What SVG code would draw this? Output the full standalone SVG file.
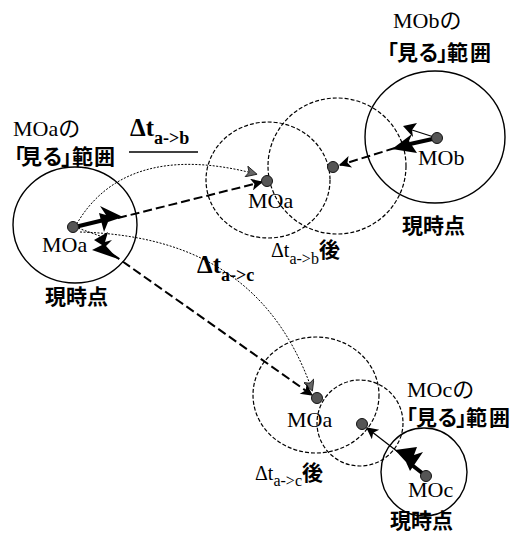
<svg xmlns="http://www.w3.org/2000/svg" width="514" height="535" viewBox="0 0 514 535">
<defs>
<marker id="ahBig" viewBox="0 0 10 10" refX="9" refY="5" markerWidth="15" markerHeight="12" markerUnits="userSpaceOnUse" orient="auto"><path d="M0,0 L10,5 L0,10 L2.5,5 z" fill="#000"/></marker>
<marker id="ahG" viewBox="0 0 10 10" refX="9" refY="5" markerWidth="13" markerHeight="11" markerUnits="userSpaceOnUse" orient="auto"><path d="M0,0 L10,5 L0,10 L2.5,5 z" fill="#666" stroke="#222" stroke-width="0.8"/></marker>
</defs>
<style>
.solid{fill:none;stroke:#000;stroke-width:1.4}
.dcirc{fill:none;stroke:#000;stroke-width:1.2;stroke-dasharray:4 2}
.dash{fill:none;stroke:#000;stroke-width:2;stroke-dasharray:9 4}
.dot{fill:none;stroke:#000;stroke-width:1;stroke-dasharray:2 1.5}
.vel{fill:none;stroke:#000;stroke-width:4}
.head{fill:#000}
.pt{fill:#555;stroke:#111;stroke-width:1}
.mo{font-family:"Liberation Serif","Noto Sans CJK JP",serif;font-size:22px;fill:#000}
.jp{font-family:"Noto Sans CJK JP",sans-serif;font-size:21px;font-weight:bold;fill:#000}
.dt{font-family:"Liberation Serif",serif;font-weight:bold;fill:#000}
.dtr{font-family:"Liberation Serif",serif;fill:#000}
</style>
<g id="circles">
<ellipse id="rangeA" class="solid" cx="75" cy="225" rx="62" ry="58"/>
<ellipse id="rangeAb" class="dcirc" cx="268" cy="180" rx="62" ry="58"/>
<ellipse id="rangeBpred" class="dcirc" cx="337" cy="166" rx="69" ry="68"/>
<ellipse id="rangeB" class="solid" cx="435" cy="137" rx="70" ry="66"/>
<ellipse id="rangeAc" class="dcirc" cx="316" cy="395" rx="63" ry="58"/>
<ellipse id="rangeCpred" class="dcirc" cx="360" cy="423" rx="43" ry="43"/>
<ellipse id="rangeC" class="solid" cx="424" cy="472" rx="43" ry="44"/>
</g>
<g id="connectors">
<path class="dot" d="M75,227 C105,172 165,150 256,174" marker-end="url(#ahG)"/>
<path class="dot" d="M80,232 C180,235 270,270 312,390" marker-end="url(#ahG)"/>
<path class="dash" d="M118,218 L262,182" marker-end="url(#ahBig)"/>
<path class="dash" d="M112,254 L312,395" marker-end="url(#ahBig)"/>
<path class="dash" d="M395,148 L340,165" marker-end="url(#ahBig)"/>
<path fill="none" stroke="#000" stroke-width="1.3" d="M398,452 L367,428" marker-end="url(#ahBig)"/>
</g>
<g id="MOa">
<line class="vel" x1="75" y1="227" x2="108" y2="219"/>
<polygon class="head" points="123,217 100,206 106,215 99,213 104,232 108,222"/>
<line x1="75" y1="227" x2="100" y2="236" stroke="#000" stroke-width="1" stroke-dasharray="2 1.5"/>
<polygon class="head" points="118,259 92,250 102,245 94,240 108,232 105,242 112,240 106,246"/>
<circle class="pt" cx="73" cy="227" r="5.5"/>
<text class="mo" x="42" y="252">MOa</text>
<text class="jp" x="45" y="304">現時点</text>
<text class="mo" x="13" y="136">MOaの</text>
<text class="jp" x="4 21 42 61 72 94" y="164">「見る」範囲</text>
</g>
<g id="MOaB">
<circle class="pt" cx="267" cy="181" r="5.5"/>
<text class="mo" x="248" y="208">MOa</text>
</g>
<g id="MOb">
<line class="vel" x1="437" y1="138" x2="410" y2="144"/>
<polygon class="head" points="392,149 412,134 409,141 417,153"/>
<line x1="437" y1="138" x2="412" y2="130" stroke="#000" stroke-width="1.2"/>
<polygon class="head" points="403,126 417,123 412,130 413,137"/>
<circle class="pt" cx="437" cy="138" r="5.5"/>
<circle class="pt" cx="333" cy="167" r="5.5"/>
<text class="mo" x="418" y="165">MOb</text>
<text class="jp" x="402" y="233">現時点</text>
<text class="mo" x="393" y="28">MObの</text>
<text class="jp" x="377 397 418 437 447 470" y="60">「見る」範囲</text>
</g>
<g id="MOaC">
<circle class="pt" cx="317" cy="398" r="5.5"/>
<text class="mo" x="287" y="427">MOa</text>
</g>
<g id="MOc">
<line class="vel" x1="426" y1="476" x2="408" y2="462"/>
<polygon class="head" points="395,450 417,447 414,455 423,452 410,471 406,462"/>
<circle class="pt" cx="426" cy="476" r="5.5"/>
<circle class="pt" cx="362" cy="424" r="5.5"/>
<text class="mo" x="408" y="497">MOc</text>
<text class="jp" x="390" y="528" font-size="20">現時点</text>
<text class="mo" x="407" y="397">MOcの</text>
<text class="jp" x="396 416 437 456 466 489" y="425">「見る」範囲</text>
</g>
<g id="labels">
<text class="dt" x="130" y="136" font-size="25">Δt<tspan font-size="18" dy="8">a-&gt;b</tspan></text>
<line x1="129" y1="152" x2="198" y2="152" stroke="#000" stroke-width="1.3"/>
<text class="dt" x="197" y="273" font-size="25">Δt<tspan font-size="18" dy="8">a-&gt;c</tspan></text>
<text class="dtr" x="271" y="257" font-size="20">Δt<tspan font-size="16" dy="7">a-&gt;b</tspan><tspan class="jp" font-size="20" dy="-7">後</tspan></text>
<text class="dtr" x="255" y="480" font-size="20">Δt<tspan font-size="16" dy="6">a-&gt;c</tspan><tspan class="jp" font-size="21" dy="-6">後</tspan></text>
</g>
</svg>
